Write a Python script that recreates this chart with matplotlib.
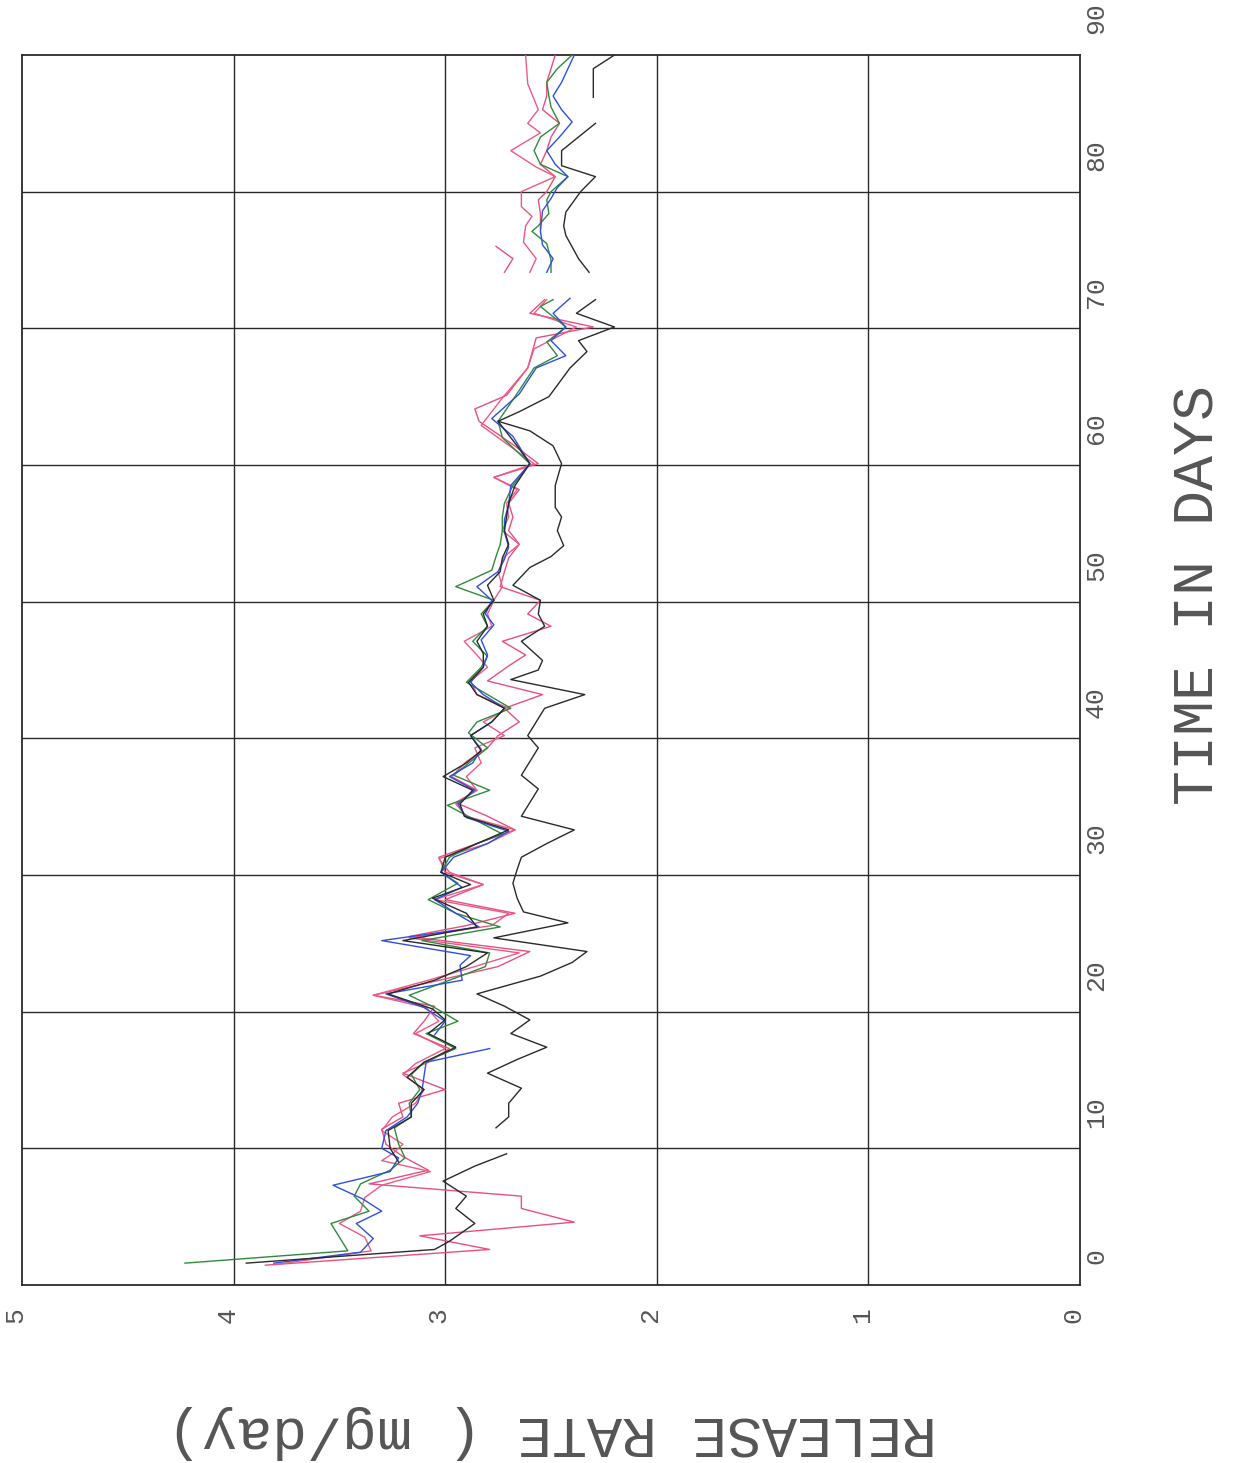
import numpy as np
import matplotlib
matplotlib.use("Agg")
import matplotlib.pyplot as plt
from matplotlib.transforms import blended_transform_factory

nan = np.nan

# ---------------- data (day, release rate mg/day) ----------------
green_days = [1.6, 2.5, 3.5, 4.5, 5.4, 6.5, 7.4, 8.4, 9.3, 10.3, 11.5, 12.3, 13.3, 14.3, 15.4, 16.3, 17.3, 18.4,
              19.3, 20.3, 21.2, 22.3, 23.3, 24.3, 25.2, 26.2, 27.2, 28.2, 29.4, 30.2, 31.3, 32.3, 33.0, 34.2, 35.1,
              36.2, 37.3, 38.3, 39.3, 40.4, 41.2, 42.2, 43.2, 44.1, 45.2, 46.0, 47.1, 48.2, 49.1, 50.1, 51.1, 52.3,
              53.3, 54.2, 55.2, 56.2, 57.2, 58.5, 60.1, 62.0, 63.2, 65.0, 67.1, 68.0, 69.0,
              70.1, 71.6, 72.1, 73.0, 74.1, 75.0, 76.2, 77.1, 77.5, 78.4, 79.4, 80.0, 81.1, 82.0, 83.0, 84.0, 85.0, 86.2,
              87.0, 88.0, 89.0, 90.0]
green_rate = [4.23, 3.46, 3.50, 3.54, 3.36, 3.43, 3.40, 3.26, 3.19, 3.22, 3.24, 3.16, 3.17, 3.12, 3.16, 3.10, 2.95, 3.09,
              2.94, 3.05, 3.17, 2.98, 2.81, 2.79, 3.11, 2.74, 2.95, 3.08, 2.94, 3.02, 2.98, 2.85, 2.73, 2.88, 2.99,
              2.79, 2.96, 2.88, 2.80, 2.89, 2.85, 2.69, 2.80, 2.90, 2.83, 2.80, 2.87, 2.80, 2.83, 2.77, 2.95, 2.78,
              2.76, 2.74, 2.73, 2.73, 2.72, 2.68, 2.60, 2.73, 2.75, 2.67, 2.58, 2.47, 2.52,
              2.43, 2.55, 2.49, nan, 2.50, 2.50, 2.52, 2.59, 2.56, 2.51, 2.52, 2.50, 2.42, 2.55, 2.58, 2.55, 2.46, 2.50,
              2.51, 2.52, 2.47, 2.40]

blue_days = [1.6, 2.4, 3.4, 4.5, 5.4, 6.3, 7.3, 8.3, 9.3, 10.0, 11.3, 12.3, 13.3, 14.2, 15.3, 16.3, 17.3, 17.8, 18.3,
             19.3, 20.3, 21.3, 22.3, 23.4, 24.1, 25.2, 26.2, 27.2, 28.2, 29.1, 30.2, 31.3, 32.3, 33.2, 34.2, 35.2,
             36.2, 37.2, 38.2, 39.2, 40.2, 41.2, 42.2, 43.2, 44.1, 45.2, 46.1, 47.2, 48.3, 49.1, 50.1, 51.1, 52.2,
             53.1, 54.0, 55.1, 56.0, 57.1, 58.5, 60.1, 62.1, 63.4, 65.2, 67.1, 68.0, 69.1,
             70.1, 71.1, 72.2, 73.0, 74.1, 75.1, 76.1, 77.1, 78.6, 79.5, 80.3, 81.1, 82.0, 83.0, 84.0, 85.1, 86.0,
             87.0, 88.0, 89.0, 90.0]
blue_rate = [3.81, 3.40, 3.34, 3.42, 3.30, 3.39, 3.53, 3.26, 3.22, 3.30, 3.28, 3.18, 3.13, 3.11, 3.10, 3.09, 2.79, nan, 3.05,
             3.00, 3.10, 3.28, 2.92, 2.93, 2.88, 3.30, 2.84, 2.95, 3.05, 2.92, 3.02, 2.96, 2.80, 2.70, 2.90, 2.94,
             2.86, 2.98, 2.87, 2.83, 2.88, 2.78, 2.72, 2.82, 2.88, 2.82, 2.80, 2.83, 2.77, 2.81, 2.78, 2.85, 2.75,
             2.72, 2.70, 2.72, 2.72, 2.70, 2.69, 2.60, 2.68, 2.78, 2.65, 2.57, 2.43, 2.50,
             2.43, 2.49, 2.41, nan, 2.52, 2.49, 2.54, 2.55, 2.54, 2.50, 2.47, 2.42, 2.48, 2.52, 2.46, 2.40, 2.45,
             2.49, 2.45, 2.42, 2.39]

pinkA_days = [1.45, 2.6, 3.6, 4.6, 5.6, 6.5, 7.4, 8.4, 9.4, 10.3, 11.4, 12.3, 13.3, 14.3, 15.5, 16.3, 17.3, 18.4, 19.3,
              20.4, 21.2, 22.4, 23.3, 24.4, 25.5, 26.3, 27.2, 28.2, 29.3, 30.2, 31.3, 32.3, 33.3, 34.3, 35.3, 36.2,
              37.2, 38.3, 39.3, 40.2, 41.2, 42.2, 43.2, 44.2, 45.3, 46.1, 47.1, 48.2, 49.1, 50.1, 51.1, 52.2, 53.2,
              54.2, 55.2, 56.2, 57.2, 58.2, 59.1, 60.1, 61.5, 63.2, 64.1, 65.1, 67.1, 69.3, 70.1,
              71.1, 72.1, 73.0, 74.1, 75.1, 76.0, 76.8, 77.3, 78.4, 79.4, 80.0, 81.1, 82.0, 83.0, 84.0, 85.0,
              86.0, 87.0, 88.0, 89.0, 90.0]
pinkA_rate = [3.85, 2.79, 3.12, 2.39, 2.64, 2.64, 3.36, 3.08, 3.20, 3.28, 3.30, 3.20, 3.22, 3.00, 3.20, 3.08, 2.98, 3.15, 3.10,
              3.05, 3.34, 3.00, 2.75, 2.60, 3.17, 2.90, 2.67, 3.00, 2.82, 3.00, 3.03, 2.85, 2.67, 2.80, 2.95, 2.85,
              2.97, 2.90, 2.80, 2.75, 2.65, 2.72, 2.54, 2.80, 2.70, 2.62, 2.73, 2.50, 2.61, 2.55, 2.74, 2.72, 2.70,
              2.65, 2.70, 2.68, 2.70, 2.65, 2.77, 2.56, 2.68, 2.84, 2.86, 2.71, 2.61, 2.57, 2.30,
              2.60, 2.53, nan, 2.72, 2.68, 2.76, nan, 2.55, 2.55, 2.56, 2.52, 2.48, 2.55, 2.52, 2.50, 2.46,
              2.54, 2.52, 2.52, 2.50, 2.48]

pinkB_days = [1.5, 2.5, 3.5, 4.5, 5.4, 6.4, 7.3, 8.3, 9.1, 9.6, 10.3, 11.3, 12.3, 13.3, 14.3, 15.4, 16.2, 17.3, 18.4,
              19.3, 20.3, 21.2, 22.3, 23.3, 24.3, 25.4, 26.3, 27.2, 28.2, 29.3, 30.2, 31.2, 32.3, 33.3, 34.3, 35.2,
              36.2, 37.2, 38.2, 39.3, 40.2, 41.2, 42.2, 43.2, 44.2, 45.2, 46.1, 47.1, 48.2, 49.1, 50.1, 51.1, 52.2,
              53.3, 54.2, 55.2, 56.2, 57.2, 58.2, 59.1, 60.1, 62.9, 64.9, 67.1, 68.5,
              70.1, 71.1, 72.1, 73.0, 74.1, 75.1, 76.3, 77.5, 78.2, 78.9, 80.0, 81.1, 81.8, 83.0, 84.3, 85.0,
              86.0, 87.9, 90.0]
pinkB_rate = [3.80, 3.35, 3.38, 3.50, 3.40, 3.38, 3.30, 3.07, 3.30, 3.25, 3.20, 3.30, 3.25, 3.14, 3.10, 3.20, 3.14, 3.00, 3.14,
              3.03, 3.09, 3.34, 3.08, 2.86, 2.65, 3.17, 2.78, 2.70, 3.05, 2.82, 2.98, 3.03, 2.80, 2.67, 2.90, 2.95,
              2.85, 2.90, 2.83, 2.86, 2.72, 2.82, 2.70, 2.85, 2.88, 2.80, 2.85, 2.91, 2.78, 2.80, 2.77, 2.73, 2.75,
              2.72, 2.65, 2.73, 2.70, 2.71, 2.66, 2.77, 2.58, 2.83, 2.73, 2.61, 2.58,
              2.38, 2.58, 2.52, nan, 2.60, 2.57, 2.63, 2.62, 2.59, 2.64, 2.64, 2.48, 2.57, 2.69, 2.55, 2.61,
              2.56, 2.61, 2.62]

blackA_days = [9.0, 10.0, 11.3, 12.3, 13.3, 14.3, 15.2, 16.3, 17.4, 18.4, 19.4, 20.2, 21.3, 22.3, 23.3, 24.3, 25.2, 26.2,
               27.2, 28.3, 29.3, 30.2, 31.3, 32.3, 33.3, 34.3, 35.2, 36.2, 37.2, 38.2, 39.1, 40.2, 41.2, 42.2, 43.2,
               44.1, 45.2, 46.2, 47.1, 48.2, 49.1, 50.1, 51.2, 52.2, 53.2, 54.2, 55.2, 56.2, 57.2, 58.5, 60.1,
               61.4, 63.2]
blackA_rate = [3.22, 3.26, 3.27, 3.16, 3.16, 3.10, 3.18, 3.10, 2.95, 3.08, 3.00, 3.06, 3.27, 3.05, 2.90, 2.80, 3.20, 2.85,
               2.90, 3.06, 2.88, 3.02, 3.00, 2.85, 2.70, 2.91, 2.93, 2.87, 3.01, 2.90, 2.83, 2.88, 2.78, 2.72, 2.85,
               2.89, 2.82, 2.82, 2.85, 2.80, 2.82, 2.77, 2.80, 2.74, 2.73, 2.70, 2.72, 2.71, 2.70, 2.67, 2.60,
               2.66, 2.75]

blackB_days = [1.6, 2.6, 3.2, 4.5, 5.6, 6.5, 7.6, 8.7, 9.6, 10.5, 11.5, 12.3, 13.3, 14.4, 15.5, 16.5, 17.4, 18.4, 19.4,
               20.4, 21.3, 22.6, 23.6, 24.4, 25.4, 26.5, 27.3, 28.3, 29.4, 30.4, 31.3, 32.3, 33.3, 34.3, 35.3, 36.3,
               37.3, 38.3, 39.3, 40.2, 41.2, 42.2, 43.2, 44.3, 45.0, 45.7, 47.1, 48.2, 49.1, 50.1, 51.2, 52.5, 53.3,
               54.1, 55.2, 56.2, 56.9, 58.5, 60.1, 61.4, 62.5, 63.2, 63.9, 65.0, 67.1, 68.3, 69.1, 70.1, 71.1,
               72.1, 73.0, 74.1, 75.1, 76.8, 77.5, 78.5, 80.0, 81.1, 81.9, 83.0, 85.0, 86.0, 86.9, 89.0, 90.0]
blackB_rate = [3.94, 3.05, 2.98, 2.86, 2.95, 2.90, 3.01, 2.86, 2.71, nan, 2.76, 2.70, 2.70, 2.64, 2.80, 2.66, 2.52, 2.69, 2.60,
               2.72, 2.85, 2.55, 2.40, 2.33, 2.77, 2.42, 2.63, 2.66, 2.68, 2.66, 2.64, 2.52, 2.39, 2.64, 2.60, 2.56,
               2.64, 2.60, 2.56, 2.61, 2.57, 2.53, 2.34, 2.69, 2.56, 2.54, 2.64, 2.53, 2.56, 2.55, 2.68, 2.60, 2.50,
               2.44, 2.47, 2.45, 2.48, 2.48, 2.45, 2.49, 2.60, 2.75, 2.65, 2.51, 2.41, 2.33, 2.37, 2.20, 2.38,
               2.29, nan, 2.32, 2.37, 2.43, 2.44, 2.43, 2.36, 2.29, 2.45, 2.45, 2.29, nan, 2.30, 2.30, 2.20]

time_ticks = [0, 10, 20, 30, 40, 50, 60, 70, 80, 90]
rate_ticks = [5, 4, 3, 2, 1, 0]
time_title = "TIME IN DAYS"
rate_title = "RELEASE RATE ( mg/day)"

# ---------------- figure ----------------
W, H = 1236, 1463
fig = plt.figure(figsize=(W / 100, H / 100), dpi=100)
fig.patch.set_facecolor("white")

left_px, right_px, top_px, bottom_px = 22, 1080, 55, 1285
ax = fig.add_axes([left_px / W, (H - bottom_px) / H, (right_px - left_px) / W, (bottom_px - top_px) / H])
ax.set_xlim(5, 0)
ax.set_ylim(0, 90)
ax.set_xticks([])
ax.set_yticks([])
for s in ax.spines.values():
    s.set_linewidth(1.3)
    s.set_color("#2a2a2a")

for r in [1, 2, 3, 4]:
    ax.axvline(r, color="#2a2a2a", lw=1.0, zorder=1)
for d in range(10, 90, 10):
    ax.axhline(d, color="#2a2a2a", lw=1.0, zorder=1)

series = [
    (pinkA_days, pinkA_rate, "#e8507f"),
    (pinkB_days, pinkB_rate, "#ec5a86"),
    (green_days, green_rate, "#2f8a3c"),
    (blue_days, blue_rate, "#2f4fe0"),
    (blackB_days, blackB_rate, "#2a2a2a"),
    (blackA_days, blackA_rate, "#2a2a2a"),
]
for d, r, c in series:
    ax.plot(r, d, color=c, lw=1.0, zorder=3)

fam = ["Liberation Mono", "DejaVu Sans Mono"]
txtc = "#555555"
tr = blended_transform_factory(ax.transAxes, ax.transData)
xlab = (1096 - left_px) / (right_px - left_px)
for t in time_ticks:
    ax.text(xlab, t + 1.5, str(t), rotation=90, rotation_mode="anchor", ha="left", va="center",
            fontsize=19, family=fam, color=txtc, transform=tr, clip_on=False)

tr2 = blended_transform_factory(ax.transData, fig.transFigure)
for r in rate_ticks:
    ax.text(r + 0.03, (H - 1315) / H, str(r), rotation=90, ha="center", va="center",
            fontsize=19, family=fam, color=txtc, transform=tr2, clip_on=False)

fig.text(1198 / W, (H - 595) / H, time_title, rotation=90, ha="center", va="center",
         fontsize=42, family=fam, color=txtc)
fig.text(552 / W, (H - 1432) / H, rate_title, rotation=180, ha="center", va="center",
         fontsize=42, family=fam, color=txtc)

fig.savefig("out.png", dpi=100, facecolor="white")
